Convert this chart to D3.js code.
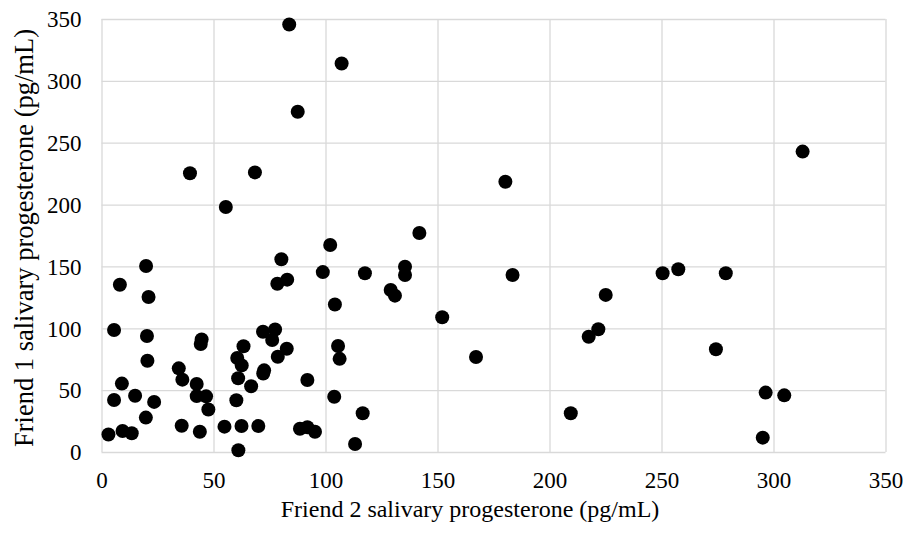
<!DOCTYPE html>
<html>
<head>
<meta charset="utf-8">
<script src="https://cdn.jsdelivr.net/npm/d3@7"></script>
<style>
  body { margin: 0; background: #fff; }
</style>
</head>
<body>
<script>
// Friend 2 (x) vs Friend 1 (y) salivary progesterone, pg/mL
const friend2 = [
  83.8, 107.2, 87.6, 39.5, 68.5, 55.5, 313, 180.3, 141.9, 102.1,
  80.3, 78.5, 82.9, 98.8, 117.6, 135.5, 135.5, 129.1, 131, 104.2,
  152.1, 183.5, 167.2, 105.6, 106.3, 91.9, 103.9, 116.6, 88.6, 91.9,
  95.3, 113.2, 209.5, 217.5, 221.8, 225.1, 250.5, 257.5, 278.7, 274.3,
  296.5, 304.8, 295.2,
  19.9, 8.2, 21, 5.6, 20.3, 20.5, 44.7, 44.3, 34.5, 36.1,
  42.5, 42.5, 46.7, 47.7, 9.1, 5.6, 15, 23.5, 19.8, 3.1,
  9.4, 13.5, 35.8, 43.9, 54.9, 62.5, 70, 61.1, 60.2, 61,
  62.6, 60.6, 63.4, 66.8, 72.6, 72.2, 72.1, 77.5, 76.2, 78.7,
  82.7
];
const friend1 = [
  345.5, 314, 275, 225.3, 226, 198, 242.8, 218.5, 177, 167.3,
  155.8, 136, 139.3, 145.4, 144.5, 149.8, 143.1, 131, 126.4, 119.2,
  108.9, 143.1, 76.8, 85.7, 75.3, 58.2, 44.7, 31.3, 18.8, 20,
  16.4, 6.5, 31.3, 93.2, 99.2, 127, 144.5, 147.7, 144.5, 83,
  48, 45.8, 11.6,
  150.4, 135.2, 125.3, 98.6, 93.8, 73.7, 91, 87.3, 67.6, 58.5,
  55, 45.2, 45, 34.3, 55.3, 42, 45.5, 40.5, 27.8, 14.2,
  17, 15.1, 21.2, 16.4, 20.5, 21, 21, 1.4, 41.8, 59.6,
  70, 76, 85.5, 53.2, 66, 63.4, 97.2, 99, 90.5, 77,
  83.4
];
const tickValues = [0, 50, 100, 150, 200, 250, 300, 350];
const xLabel = "Friend 2 salivary progesterone (pg/mL)";
const yLabel = "Friend 1 salivary progesterone (pg/mL)";

const FONT = "'Liberation Serif', 'Times New Roman', serif";
const W = 906, H = 535;
const margin = {top: 19, right: 20.5, bottom: 83, left: 101.5};
const width = W - margin.left - margin.right,
      height = H - margin.top - margin.bottom;

const svg = d3.select("body").append("svg")
    .attr("width", W)
    .attr("height", H);

const g = svg.append("g")
    .attr("transform", "translate(" + margin.left + "," + margin.top + ")");

const x = d3.scaleLinear().domain([0, 350]).range([0, width]);
const y = d3.scaleLinear().domain([0, 350]).range([height, 0]);

// gridlines + ticks
const xAxis = d3.axisBottom(x).tickValues(tickValues).tickSize(-height).tickPadding(20);
const yAxis = d3.axisLeft(y).tickValues(tickValues).tickSize(-width).tickPadding(20);

const gx = g.append("g")
    .attr("transform", "translate(0," + height + ")")
    .call(xAxis);
const gy = g.append("g").call(yAxis);

[gx, gy].forEach(a => {
  a.attr("font-family", null).attr("font-size", null);
  a.select(".domain").remove();
  a.selectAll(".tick line").attr("stroke", "#d9d9d9").attr("stroke-width", 1.3);
  a.selectAll(".tick text")
    .attr("fill", "#000")
    .style("font-family", FONT)
    .style("font-size", "23px");
});
gy.selectAll(".tick text").attr("dy", "0.34em");

// dots
const points = friend2.map((d, i) => ({x: d, y: friend1[i]}));
g.selectAll("circle")
  .data(points)
  .enter()
  .append("circle")
    .attr("cx", d => x(d.x))
    .attr("cy", d => y(d.y))
    .attr("r", 7)
    .style("fill", "#000");

// axis titles
svg.append("text")
    .attr("x", 470)
    .attr("y", 517)
    .attr("text-anchor", "middle")
    .style("font-family", FONT)
    .style("font-size", "24px")
    .text(xLabel);

svg.append("text")
    .attr("transform", "translate(33,238) rotate(-90)")
    .attr("text-anchor", "middle")
    .style("font-family", FONT)
    .style("font-size", "26.5px")
    .text(yLabel);
</script>
</body>
</html>
